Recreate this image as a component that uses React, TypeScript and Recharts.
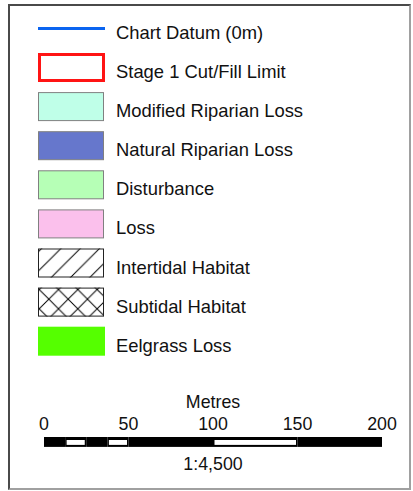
import React from 'react';
import { ComposedChart, Bar, XAxis, YAxis, Legend } from 'recharts';

// ---- legend content ----
const legendLabels = [
  'Chart Datum (0m)',
  'Stage 1 Cut/Fill Limit',
  'Modified Riparian Loss',
  'Natural Riparian Loss',
  'Disturbance',
  'Loss',
  'Intertidal Habitat',
  'Subtidal Habitat',
  'Eelgrass Loss',
];
const legendKinds = ['line', 'outline', 'fill', 'fill', 'fill', 'fill', 'hatch', 'cross', 'fill'];
const legendColors = ['#0a64f0', '#ff1414', '#bfffe8', '#6677cc', '#b6ffb6', '#fbc0ec', '#ffffff', '#ffffff', '#55ff00'];
const legendBorders = ['none', '#ff1414', '#808080', '#808080', '#808080', '#808080', '#222222', '#222222', 'none'];

// ---- scale bar ----
const scaleTicks = [0, 50, 100, 150, 200];
const scaleSegments = [12.5, 12.5, 12.5, 12.5, 50, 50, 50];
const scaleSegmentColors = ['black', 'white', 'black', 'white', 'black', 'white', 'black'];
const scaleUnit = 'Metres';
const scaleRatio = '1:4,500';

const scaleRow: Record<string, any> = { row: 'scale' };
scaleSegments.forEach((v, i) => {
  scaleRow[`s${i}`] = v;
});
const scaleData = [scaleRow];

const FONT = '"Liberation Sans", Arial, sans-serif';
const TEXT = '#111111';

const LegendContent = () => {
  const rowTop = 28.4;
  const pitch = 39.1;
  const sx = 38;
  const sw = 66;
  const sh = 29;
  return (
    <svg width={413} height={380} style={{ display: 'block' }}>
      <defs>
        <pattern id="hatchP" patternUnits="userSpaceOnUse" width={19.3} height={19.3} x={0.6} y={0}>
          <path d="M-2,2 L2,-2 M0,19.3 L19.3,0 M17.3,21.3 L21.3,17.3" stroke="#000" strokeWidth={1} />
        </pattern>
        <pattern id="crossP" patternUnits="userSpaceOnUse" width={19.3} height={19.3} x={0.6} y={0}>
          <path
            d="M-2,2 L2,-2 M0,19.3 L19.3,0 M17.3,21.3 L21.3,17.3 M-2,17.3 L2,21.3 M0,0 L19.3,19.3 M17.3,-2 L21.3,2"
            stroke="#000"
            strokeWidth={1}
          />
        </pattern>
      </defs>
      {legendLabels.map((label, i) => {
        const cy = rowTop + pitch * i;
        const kind = legendKinds[i];
        let sw_el: React.ReactNode = null;
        if (kind === 'line') {
          sw_el = <line x1={sx} x2={sx + sw + 1} y1={cy} y2={cy} stroke={legendColors[i]} strokeWidth={3} />;
        } else if (kind === 'outline') {
          sw_el = (
            <rect x={sx + 1.5} y={cy - sh / 2 + 1.5} width={sw - 2} height={sh - 3} fill="#fff" stroke={legendBorders[i]} strokeWidth={3} />
          );
        } else if (kind === 'hatch' || kind === 'cross') {
          sw_el = (
            <g>
              <rect x={sx} y={cy - sh / 2} width={sw} height={sh} fill="#fff" />
              <rect x={sx} y={cy - sh / 2} width={sw} height={sh} fill={kind === 'hatch' ? 'url(#hatchP)' : 'url(#crossP)'} />
              <rect x={sx + 0.5} y={cy - sh / 2 + 0.5} width={sw - 1} height={sh - 1} fill="none" stroke={legendBorders[i]} strokeWidth={1} />
            </g>
          );
        } else {
          const b = legendBorders[i];
          sw_el =
            b === 'none' ? (
              <rect x={sx} y={cy - sh / 2} width={sw + 1} height={sh} fill={legendColors[i]} />
            ) : (
              <rect x={sx + 0.5} y={cy - sh / 2 + 0.5} width={sw - 1} height={sh - 1} fill={legendColors[i]} stroke={b} strokeWidth={1} />
            );
        }
        return (
          <g key={label}>
            {sw_el}
            <text x={116} y={cy + 10.5} fontSize={18.4} fontFamily={FONT} fill={TEXT}>
              {label}
            </text>
          </g>
        );
      })}
    </svg>
  );
};

const ScaleTick = (props: any) => {
  const { x, y, payload } = props;
  return (
    <text x={x} y={y + 1.5} textAnchor="middle" fontSize={17.8} fontFamily={FONT} fill={TEXT}>
      {payload.value}
    </text>
  );
};

const AxisTitle = (props: any) => {
  const { viewBox, text, dy } = props;
  const vb = viewBox || { x: 0, y: 0, width: 0, height: 0 };
  return (
    <text x={vb.x + vb.width / 2} y={vb.y + dy} textAnchor="middle" fontSize={17.8} fontFamily={FONT} fill={TEXT}>
      {text}
    </text>
  );
};

const makeSegShape = (color: string) => (props: any) => {
  const { x, y, width, height } = props;
  if (color === 'white') {
    return (
      <g>
        <rect x={x} y={y} width={width} height={height} fill="#000" />
        <rect x={x + 1.5} y={y + 3} width={Math.max(0, width - 3)} height={Math.max(0, height - 5)} fill="#fff" />
      </g>
    );
  }
  return <rect x={x} y={y} width={width} height={height} fill="#000" />;
};

export default function App() {
  return (
    <div style={{ position: 'absolute', left: 0, top: 0, width: 413, height: 491, background: '#fff' }}>
      <div
        style={{
          position: 'absolute',
          left: 8,
          top: 4,
          width: 403,
          height: 486,
          boxSizing: 'border-box',
          borderTop: '2px solid #4a4a4a',
          borderLeft: '2px solid #4a4a4a',
          borderRight: '2px solid #a0a0a0',
          borderBottom: '2px solid #a0a0a0',
        }}
      />
      <div style={{ position: 'absolute', left: 0, top: 0 }}>
        <ComposedChart
          width={413}
          height={491}
          data={scaleData}
          layout="vertical"
          margin={{ top: 406, right: 31, bottom: 14, left: 44 }}
          barCategoryGap={0}
        >
          <XAxis
            xAxisId="top"
            type="number"
            orientation="top"
            domain={[0, 200]}
            ticks={scaleTicks}
            interval={0}
            height={30}
            axisLine={false}
            tickLine={false}
            tick={ScaleTick}
            label={<AxisTitle text={scaleUnit} dy={1.7} />}
          />
          <XAxis
            xAxisId="bottom"
            type="number"
            orientation="bottom"
            domain={[0, 200]}
            height={30}
            axisLine={false}
            tickLine={false}
            tick={false}
            label={<AxisTitle text={scaleRatio} dy={23} />}
          />
          <YAxis type="category" dataKey="row" hide />
          {scaleSegments.map((v, i) => (
            <Bar
              key={`s${i}`}
              dataKey={`s${i}`}
              stackId="scale"
              xAxisId="top"
              barSize={11}
              isAnimationActive={false}
              shape={makeSegShape(scaleSegmentColors[i])}
            />
          ))}
          <Legend
            layout="vertical"
            align="center"
            verticalAlign="middle"
            content={<LegendContent />}
            wrapperStyle={{ left: 0, top: 0, width: 413, height: 380 }}
          />
        </ComposedChart>
      </div>
    </div>
  );
}
